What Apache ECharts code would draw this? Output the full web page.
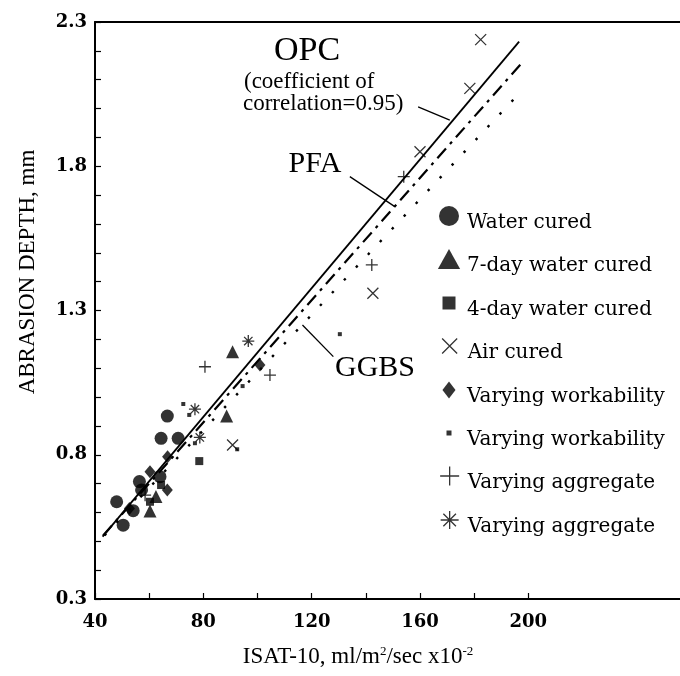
<!DOCTYPE html>
<html><head><meta charset="utf-8">
<script src="https://cdn.jsdelivr.net/npm/echarts@6/dist/echarts.min.js"></script>
<style>html,body{margin:0;padding:0;background:#fff}#c{width:680px;height:676px}</style>
</head><body><div id="c"></div>
<script>
// ---- tick labels ----
const xTickLabels = [40, 80, 120, 160, 200];
const xTickMarks = [40, 60, 80, 100, 120, 140, 160, 180, 200];
const yTickLabels = [0.3, 0.8, 1.3, 1.8, 2.3];
const yTickMarks = [0.3,0.4,0.5,0.6,0.7,0.8,0.9,1.0,1.1,1.2,1.3,1.4,1.5,1.6,1.7,1.8,1.9,2.0,2.1,2.2,2.3];

// ---- categories ----
const categories = ['Water cured','7-day water cured','4-day water cured','Air cured',
  'Varying workability','Varying workability','Varying aggregate','Varying aggregate'];

// ---- series values [ISAT-10, abrasion depth] ----
const waterCured = [[66.7,0.934],[64.4,0.857],[70.7,0.857],[56.4,0.707],[64.0,0.724],[57.2,0.678],[48.0,0.637],[54.1,0.606],[50.4,0.556]];
const day7Cured = [[88.6,0.934],[62.5,0.655],[60.3,0.605],[90.8,1.157]];
const day4Cured = [[78.5,0.778],[64.4,0.695],[60.3,0.637]];
const airCured = [[90.8,0.834],[142.6,1.36],[160.0,1.85],[178.4,2.07],[182.4,2.239]];
const workabilityA = [[66.8,0.793],[60.3,0.741],[66.7,0.678],[52.7,0.614],[100.9,1.111]];
const workabilityB = [[72.6,0.976],[74.8,0.938],[76.9,0.84],[92.5,0.819],[94.5,1.038],[130.4,1.218]];
const aggregateA = [[80.6,1.105],[104.6,1.076],[142.2,1.458],[154.0,1.764],[58.5,0.66]];
const aggregateB = [[76.9,0.958],[78.7,0.86],[96.6,1.194]];

// ---- regression lines ----
const opcLine = [[42.8,0.516],[196.6,2.232]];
const pfaLine = [[43.0,0.52],[197.5,2.157]];
const ggbsLine = [[43.5,0.52],[195.4,2.04]];

// ---- annotation leaders ----
const opcLeader = [[159.3,2.006],[171.0,1.96]];
const pfaLeader = [[134.1,1.764],[150.7,1.66]];
const ggbsLeader = [[128.0,1.14],[116.6,1.25]];

const crossPath = 'path://M0,0L10,10M10,0L0,10';
const plusPath = 'path://M5,0L5,10M0,5L10,5';
const starPath = 'path://M5,0L5,10M0,5L10,5M1.5,1.5L8.5,8.5M8.5,1.5L1.5,8.5';
const squarePath = 'path://M0,0L10,0L10,10L0,10Z';
const trianglePath = 'path://M5,0L10,9L0,9Z';
const diamondPath = 'path://M5,0L10,6.5L5,13L0,6.5Z';

const filled = {color:'#000', borderWidth:0};
const stroked = {color:'rgba(0,0,0,0)', borderColor:'#000', borderWidth:1.3};

const scatterDefs = [
  {data: waterCured, symbol:'circle', icon:'circle', size:13, lsize:20, lw:20, style: filled},
  {data: day7Cured, symbol:'triangle', icon:trianglePath, size:13, lsize:20, lw:22.2, style: filled},
  {data: day4Cured, symbol:'rect', icon:squarePath, size:8, lsize:13, lw:13, style: filled},
  {data: airCured, symbol:crossPath, icon:crossPath, size:11, lsize:15, lw:15, style: stroked},
  {data: workabilityA, symbol:'diamond', icon:diamondPath, size:[11,13], lsize:17, lw:13.1, style: filled},
  {data: workabilityB, symbol:'rect', icon:squarePath, size:4, lsize:5, lw:5, style: filled},
  {data: aggregateA, symbol:plusPath, icon:plusPath, size:12, lsize:19, lw:19, style: stroked},
  {data: aggregateB, symbol:starPath, icon:starPath, size:12, lsize:18, lw:18, style: stroked},
];
const legendCenters = [218, 261, 305, 348, 392, 435, 478, 522];

const seriesIds = categories.map((c,i)=> c + ' #' + i);

const series = scatterDefs.map((d,i)=>({
  type:'scatter', name: seriesIds[i], data: d.data,
  symbol: d.symbol, symbolSize: d.size,
  itemStyle: d.style, z: 5
}));

function lineSeries(data, style){
  return {type:'line', data, symbol:'none', silent:true, lineStyle: style, z:3, animation:false};
}
series.push(lineSeries(opcLine, {color:'#000', width:1.8, type:'solid'}));
series.push(lineSeries(pfaLine, {color:'#000', width:2.2, type:[13,6,3,6]}));
series.push(lineSeries(ggbsLine, {color:'#000', width:2.4, type:[2.5,15]}));
series.push(lineSeries(opcLeader, {color:'#000', width:1.3}));
series.push(lineSeries(pfaLeader, {color:'#000', width:1.3}));
series.push(lineSeries(ggbsLeader, {color:'#000', width:1.3}));

const legends = scatterDefs.map((d,i)=>({
  data:[{name: seriesIds[i], icon: d.icon}],
  left: 449 - d.lw/2, top: legendCenters[i] - 19,
  padding: 0, itemWidth: 26, itemHeight: d.lsize,
  symbolKeepAspect: true,
  selectedMode: false,
  formatter: () => '{t|' + categories[i] + '}',
  itemStyle: d.style,
  textStyle: {fontFamily:'DejaVu Serif', fontSize:20, color:'#000',
    rich:{t:{fontFamily:'DejaVu Serif', fontSize:20, color:'#000', lineHeight:24, padding:[14,0,0,0]}}}
}));

const serif = 'Liberation Serif';
const tickFont = {fontFamily:'DejaVu Serif', fontWeight:'bold', fontSize:18, color:'#000'};

const chart = echarts.init(document.getElementById('c'));
chart.setOption({
  animation:false,
  backgroundColor:'#fff',
  grid:{left:95, top:22, right:0, bottom:77},
  xAxis:[{
    type:'value', min:40, max:256, position:'bottom',
    axisLine:{show:true, onZero:false, lineStyle:{color:'#000', width:2}},
    axisTick:{show:true, inside:true, length:6, customValues:xTickMarks, lineStyle:{color:'#000', width:1.2}},
    axisLabel:Object.assign({customValues:xTickLabels, margin:14}, tickFont),
    splitLine:{show:false}
  },{
    type:'value', min:40, max:256, position:'top',
    axisLine:{show:true, onZero:false, lineStyle:{color:'#000', width:2}},
    axisTick:{show:false}, axisLabel:{show:false}, splitLine:{show:false}
  }],
  yAxis:{
    type:'value', min:0.3, max:2.3,
    axisLine:{show:true, onZero:false, lineStyle:{color:'#000', width:2}},
    axisTick:{show:true, inside:true, length:6, customValues:yTickMarks, lineStyle:{color:'#000', width:1.2}},
    axisLabel:Object.assign({customValues:yTickLabels, margin:8, formatter:v=>v.toFixed(1), padding:[0,0,7,0]}, tickFont),
    splitLine:{show:false}
  },
  legend: legends,
  series: series,
  graphic:[
    {type:'text', x:28, y:272, rotation:Math.PI/2, style:{text:'ABRASION DEPTH, mm', font:'23px "Liberation Serif"', fill:'#000', align:'center', verticalAlign:'middle'}},
    {type:'text', x:358, y:657, style:{text:'ISAT-10, ml/m{s|2}/sec x10{s|-2}', font:'23px "Liberation Serif"', fill:'#000', align:'center', verticalAlign:'middle',
      rich:{s:{fontSize:13, fontFamily:serif, verticalAlign:'top', padding:[0,0,10,0]}}}},
    {type:'text', x:307, y:51, style:{text:'OPC', font:'34px "Liberation Serif"', fill:'#000', align:'center', verticalAlign:'middle'}},
    {type:'text', x:244, y:82, style:{text:'(coefficient of', font:'23px "Liberation Serif"', fill:'#000', align:'left', verticalAlign:'middle'}},
    {type:'text', x:243, y:104, style:{text:'correlation=0.95)', font:'23px "Liberation Serif"', fill:'#000', align:'left', verticalAlign:'middle'}},
    {type:'text', x:315, y:164, style:{text:'PFA', font:'30px "Liberation Serif"', fill:'#000', align:'center', verticalAlign:'middle'}},
    {type:'text', x:335, y:368, style:{text:'GGBS', font:'30px "Liberation Serif"', fill:'#000', align:'left', verticalAlign:'middle'}}
  ]
});
</script>
</body></html>
